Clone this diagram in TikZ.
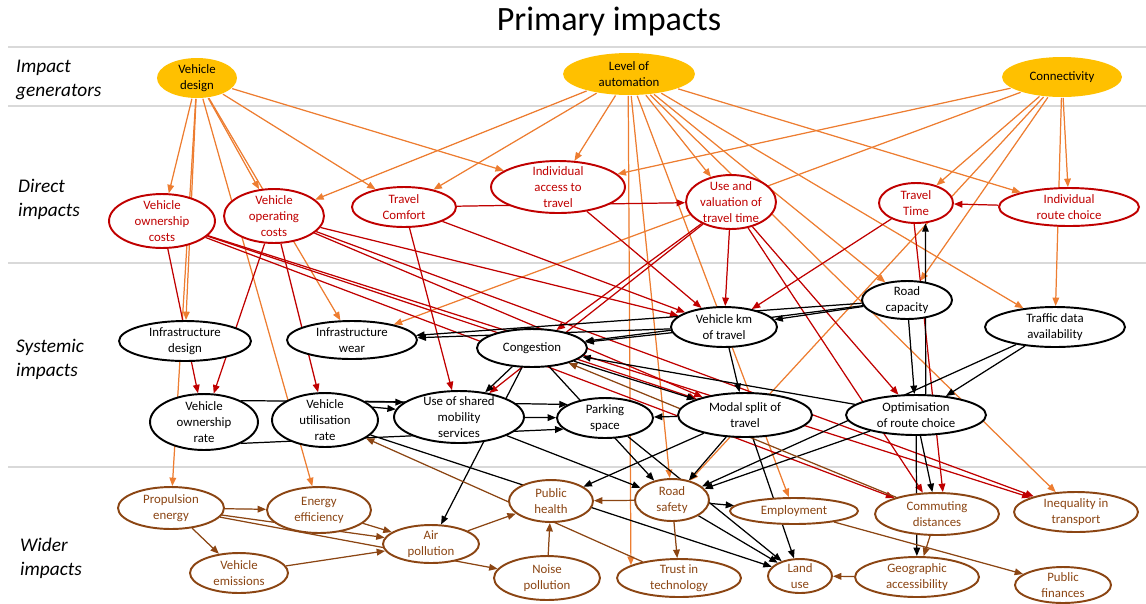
\documentclass[tikz,border=0pt]{standalone}
\usepackage{fontspec}
\setmainfont{Carlito}
\usepackage{tikz}
\usetikzlibrary{arrows.meta,shapes.geometric,backgrounds}
\usepackage[usenames,dvipsnames]{xcolor}
\definecolor{gold}{HTML}{FFC000}
\definecolor{orangeline}{HTML}{ED7D31}
\definecolor{darkred}{HTML}{C00000}
\definecolor{brownline}{HTML}{8B4513}
\definecolor{sepgray}{HTML}{D9D9D9}

\begin{document}
\begin{tikzpicture}[x=0.02cm,y=-0.02cm]
    \tikzset{vertex/.style = {shape=ellipse, draw, line width=1.1pt, fill=white, align=center, inner xsep=-2pt, inner ysep=-6pt, font=\fontsize{7.3}{9}\selectfont}}
    \tikzset{gen/.style = {vertex, draw=none, fill=gold}}
    \tikzset{direct/.style = {vertex, draw=darkred, text=darkred}}
    \tikzset{sys/.style = {vertex, draw=black}}
    \tikzset{wide/.style = {vertex, draw=brownline, text=brownline}}
    \tikzset{rad/.style 2 args = {minimum width=#1*0.04cm, minimum height=#2*0.04cm}}
    \tikzset{arc/.style = {line width=0.7pt, -{Triangle[length=4.8pt,width=3.8pt]}}}
    \tikzset{oarc/.style = {arc, draw=orangeline, fill=orangeline}}
    \tikzset{rarc/.style = {arc, draw=darkred, fill=darkred}}
    \tikzset{karc/.style = {arc, draw=black, fill=black}}
    \tikzset{barc/.style = {arc, draw=brownline, fill=brownline}}
    \tikzset{lab/.style = {anchor=west, align=left, font=\fontsize{11}{13.6}\selectfont\itshape}}

    \useasboundingbox (0,0) rectangle (1146,603);

    % title and rows
    \node (title) at (609,22) {\fontsize{19.4}{23}\selectfont Primary impacts};
    \node[lab] (lgen) at (10,80) {Impact\\generators};
    \node[lab] (ldir) at (12,199) {Direct\\impacts};
    \node[lab] (lsys) at (10,359) {Systemic\\impacts};
    \node[lab] (lwid) at (14,558) {Wider\\impacts};

    % impact generators
    \node[gen, rad={40}{20}] (vd) at (197,78) {Vehicle\\design};
    \node[gen, rad={66}{21}] (la) at (629,74) {Level of\\automation};
    \node[gen, rad={60}{20}] (conn) at (1062,77) {Connectivity};

    % direct impacts
    \node[direct, rad={53}{27}] (voc) at (162,221) {Vehicle\\ownership\\costs};
    \node[direct, rad={50}{27}] (vopc) at (274,216) {Vehicle\\operating\\costs};
    \node[direct, rad={52}{20}] (tc) at (404,207) {Travel\\Comfort};
    \node[direct, rad={67}{26}] (iat) at (558,187) {Individual\\access to\\travel};
    \node[direct, rad={45}{27}] (uvt) at (731,202) {Use and\\valuation of\\travel time};
    \node[direct, rad={37}{20}] (tt) at (916,203) {Travel\\Time};
    \node[direct, rad={70}{19}] (irc) at (1069,207) {Individual\\route choice};

    % systemic impacts
    \node[sys, rad={66}{20}] (infd) at (185,341) {Infrastructure\\design};
    \node[sys, rad={65}{19}] (infw) at (352,340) {Infrastructure\\wear};
    \node[sys, rad={55}{19}] (cong) at (532,348) {Congestion};
    \node[sys, rad={53}{20}] (vkt) at (724,327) {Vehicle km\\of travel};
    \node[sys, rad={45}{19}] (rc) at (907,300) {Road\\capacity};
    \node[sys, rad={70}{20}] (tda) at (1055,327) {Traffic data\\availability};
    \node[sys, rad={54}{28}] (vor) at (204,422) {Vehicle\\ownership\\rate};
    \node[sys, rad={53}{27}] (vur) at (325,420) {Vehicle\\utilisation\\rate};
    \node[sys, rad={65}{26}] (usm) at (459,417) {Use of shared\\mobility\\services};
    \node[sys, rad={48}{20}] (ps) at (605,418) {Parking\\space};
    \node[sys, rad={67}{22}] (msp) at (745,415) {Modal split of\\travel};
    \node[sys, rad={70}{20}] (orc) at (916,415) {Optimisation\\of route choice};

    % wider impacts
    \node[wide, rad={53}{21}] (prop) at (171,508) {Propulsion\\energy};
    \node[wide, rad={52}{23}] (eff) at (319,510) {Energy\\efficiency};
    \node[wide, rad={49}{20}] (vem) at (239,573) {Vehicle\\emissions};
    \node[wide, rad={48}{19}] (ap) at (431,544) {Air\\pollution};
    \node[wide, rad={42}{21}] (ph) at (551,501) {Public\\health};
    \node[wide, rad={53}{22}] (noise) at (547,578) {Noise\\pollution};
    \node[wide, rad={37}{21}] (rs) at (672,500) {Road\\safety};
    \node[wide, rad={62}{19}] (trust) at (679,578) {Trust in\\technology};
    \node[wide, rad={64}{13}] (emp) at (794,511) {Employment};
    \node[wide, rad={62}{21}] (cd) at (937,514) {Commuting\\distances};
    \node[wide, rad={62}{20}] (ineq) at (1076,512) {Inequality in\\transport};
    \node[wide, rad={32}{17}] (lu) at (800,576) {Land\\use};
    \node[wide, rad={62}{20}] (geo) at (917,577) {Geographic\\accessibility};
    \node[wide, rad={48}{18}] (pf) at (1063,585) {Public\\finances};

    \begin{scope}[on background layer]
    \foreach \y in {47,106,263,467}
        \draw[sepgray, line width=0.6pt] (8,\y) -- (1146,\y);

    % edges from the generators
    \draw[oarc] (vd) -- (voc);
    \draw[oarc] (vd) -- (infd);
    \draw[oarc] (vd) -- (prop);
    \draw[oarc] (vd) -- (eff);
    \draw[oarc] (vd) -- (infw);
    \draw[oarc] (vd) -- (vopc);
    \draw[oarc] (vd) -- (tc);
    \draw[oarc] (vd) -- (iat);
    \draw[oarc] (la) -- (vopc);
    \draw[oarc] (la) -- (tc);
    \draw[oarc] (la) -- (iat);
    \draw[oarc] (la.-92) -- (trust.165);
    \draw[oarc] (la) -- (rs);
    \draw[oarc] (la) -- (emp);
    \draw[oarc] (la) -- (uvt);
    \draw[oarc] (la) -- (rc);
    \draw[oarc] (la) -- (ineq);
    \draw[oarc] (la) -- (tda);
    \draw[oarc] (la) -- (irc);
    \draw[oarc] (conn) -- (iat);
    \draw[oarc] (conn) -- (infw);
    \draw[oarc] (conn) -- (tt);
    \draw[oarc] (conn) -- (rc);
    \draw[oarc] (conn) -- (rs);
    \draw[oarc] (conn) -- (irc);
    \draw[oarc] (conn) -- (tda);

    % edges from the direct impacts
    \draw[rarc] (voc) -- (vor);
    \draw[rarc] (voc) -- (msp);
    \draw[rarc] (voc) -- (ineq);
    \draw[rarc] (voc) -- (cd);
    \draw[rarc] (vopc) -- (vor);
    \draw[rarc] (vopc) -- (vur);
    \draw[rarc] (vopc) -- (vkt);
    \draw[rarc] (vopc) -- (msp);
    \draw[rarc] (vopc) -- (ineq);
    \draw[rarc] (tc) -- (uvt);
    \draw[rarc] (tc) -- (vkt);
    \draw[rarc] (tc) -- (usm);
    \draw[rarc] (iat) -- (vkt);
    \draw[rarc] (uvt) -- (cong);
    \draw[rarc] (uvt) -- (usm);
    \draw[rarc] (uvt) -- (vkt);
    \draw[rarc] (uvt) -- (orc);
    \draw[rarc] (uvt) -- (cd);
    \draw[rarc] (tt) -- (vkt);
    \draw[rarc] (tt.-95) -- (cd.75);
    \draw[rarc] (irc) -- (tt);

    % edges from the systemic impacts
    \draw[karc] (rc) -- (infw);
    \draw[karc] (rc) -- (vkt);
    \draw[karc] (rc) -- (cong);
    \draw[karc] (rc) -- (orc);
    \draw[karc] (vkt) -- (infw);
    \draw[karc] (vkt) -- (cong);
    \draw[karc] (vkt) -- (msp);
    \draw[karc] (orc.65) -- (tt.-65);
    \draw[karc] (orc) -- (cong);
    \draw[karc] (orc) -- (rs);
    \draw[karc] (orc) -- (cd);
    \draw[karc] (orc) -- (geo);
    \draw[karc] (tda) -- (orc);
    \draw[karc] (tda) -- (rs);
    \draw[karc] (cong) -- (usm);
    \draw[karc] (cong) -- (ap);
    \draw[karc] (cong) -- (msp);
    \draw[karc] (cong) -- (rs);
    \draw[karc] (vor.30) -- (usm.165);
    \draw[karc] (vor.-30) -- (ps.195);
    \draw[karc] (vur.15) -- (usm.173);
    \draw[karc] (vur.25) -- (ps.160);
    \draw[karc] (vur) -- (lu);
    \draw[karc] (usm) -- (ps);
    \draw[karc] (usm) -- (rs);
    \draw[karc] (ps) -- (lu);
    \draw[karc] (msp) -- (ps);
    \draw[karc] (msp) -- (rs);
    \draw[karc] (msp) -- (ph);
    \draw[karc] (msp) -- (lu);
    \draw[karc] (rs) -- (lu);
    \draw[karc] (rs) -- (emp);

    % edges from the wider impacts
    \draw[barc] (prop) -- (eff);
    \draw[barc] (prop) -- (vem);
    \draw[barc] (prop) -- (ap);
    \draw[barc] (prop) -- (noise);
    \draw[barc] (eff) -- (ap);
    \draw[barc] (vem) -- (ap);
    \draw[barc] (ap) -- (ph);
    \draw[barc] (noise) -- (ph);
    \draw[barc] (rs) -- (ph);
    \draw[barc] (rs) -- (trust);
    \draw[barc] (emp) -- (pf);
    \draw[barc] (cd) -- (geo);
    \draw[barc] (cd) -- (cong);
    \draw[barc] (geo) -- (lu);
    \draw[barc] (trust) -- (vur);
    \end{scope}
\end{tikzpicture}
\end{document}
